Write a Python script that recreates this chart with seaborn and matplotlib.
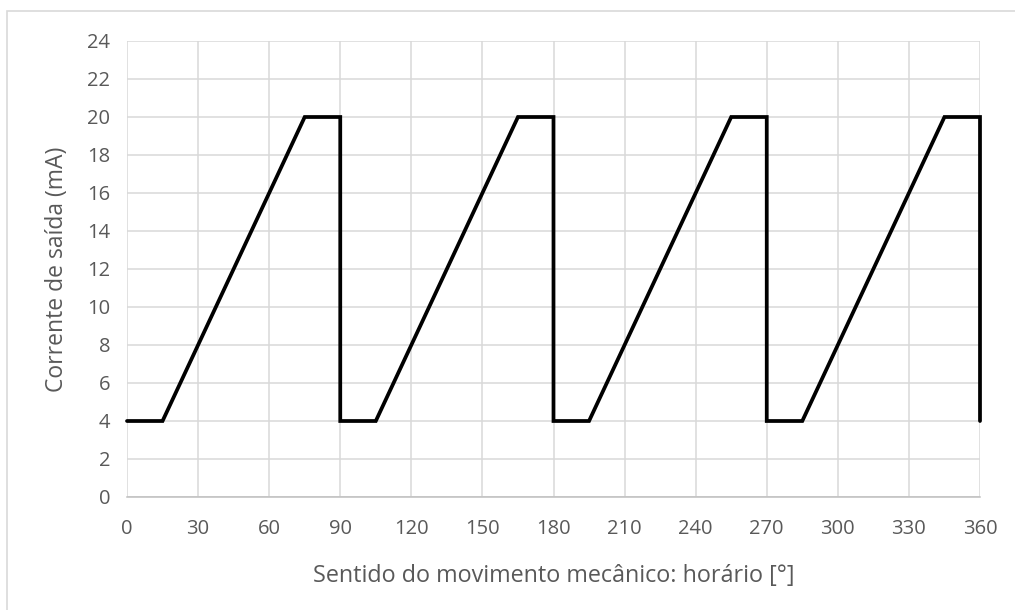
import matplotlib
matplotlib.use("Agg")
import matplotlib.pyplot as plt
import seaborn as sns
import pandas as pd
from matplotlib.patches import Rectangle

# data
angle = [0, 15, 75, 90, 90, 105, 165, 180, 180, 195, 255, 270, 270, 285, 345, 360, 360]
current = [4, 4, 20, 20, 4, 4, 20, 20, 4, 4, 20, 20, 4, 4, 20, 20, 4]
x_ticks = list(range(0, 361, 30))
y_ticks = list(range(0, 25, 2))
x_label = "Sentido do movimento mecânico: horário [°]"
y_label = "Corrente de saída (mA)"

df = pd.DataFrame({"angle": angle, "current": current})

sns.set_theme(style="white")
plt.rcParams['font.family'] = ['Open Sans', 'DejaVu Sans']

fig = plt.figure(figsize=(10.15, 6.1), dpi=100)
fig.patches.append(Rectangle((7/1015, -0.1), 1.2, 1 - 11/610 + 0.1, transform=fig.transFigure,
                             fill=False, edgecolor='#d9d9d9', linewidth=1.2))
ax = fig.add_axes([127/1015, 1 - 497/610, (980-127)/1015, (497-41)/610])

sns.lineplot(data=df, x="angle", y="current", sort=False, ax=ax, color='black',
             linewidth=2.7, estimator=None)
for ln in ax.get_lines():
    ln.set_clip_on(False)
    ln.set_solid_joinstyle('miter')

ax.set_xlim(0, 360)
ax.set_ylim(0, 24)
ax.set_xticks(x_ticks)
ax.set_yticks(y_ticks)
ax.grid(True, color='#d9d9d9', linewidth=1.1)
ax.set_axisbelow(True)
for s in ['top', 'right', 'left']:
    ax.spines[s].set_visible(False)
ax.spines['bottom'].set_color('#bfbfbf')
ax.spines['bottom'].set_linewidth(1.1)
ax.tick_params(axis='both', length=0, labelsize=14.5, labelcolor='#595959')
ax.tick_params(axis='x', pad=16)
ax.tick_params(axis='y', pad=12)
ax.set_xlabel(x_label, fontsize=16.8, color='#595959', labelpad=18)
ax.set_ylabel(y_label, fontsize=16.5, color='#595959', labelpad=13)

fig.savefig("out.png", dpi=100)
